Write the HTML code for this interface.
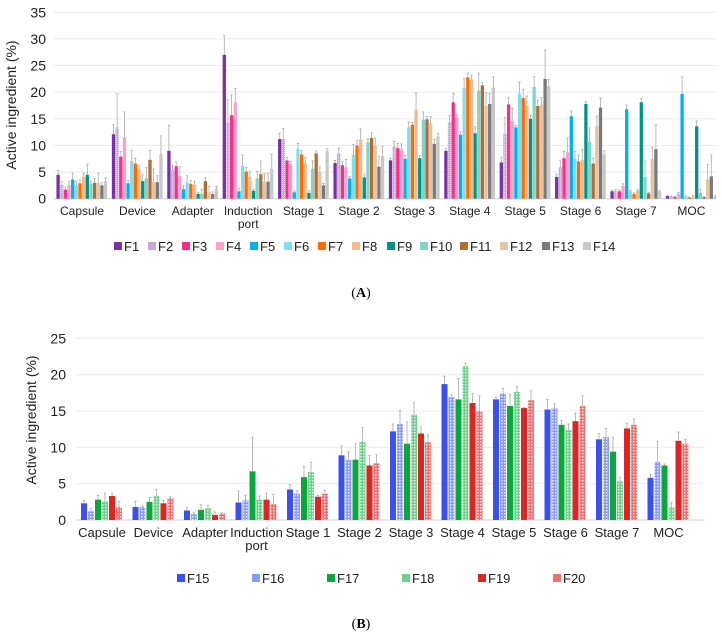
<!DOCTYPE html>
<html><head><meta charset="utf-8"><style>
body{margin:0;background:#fff;}
svg{display:block;font-family:"Liberation Sans",Arial,sans-serif;}
</style></head><body>
<svg id="root" width="722" height="636" viewBox="0 0 722 636">
<defs>
<pattern id="dotF2" width="2" height="2" patternUnits="userSpaceOnUse"><rect width="2" height="2" fill="#c9a6dc"/><rect width="1" height="1" fill="#e8d8f0"/></pattern>
<pattern id="dotF16" width="3" height="3" patternUnits="userSpaceOnUse"><rect width="3" height="3" fill="#8c9cf5"/><rect width="1.5" height="1.5" fill="#e8ecff"/></pattern>
<pattern id="dotF18" width="3" height="3" patternUnits="userSpaceOnUse"><rect width="3" height="3" fill="#6fd08c"/><rect width="1.5" height="1.5" fill="#e4f7e9"/></pattern>
<pattern id="dotF20" width="3" height="3" patternUnits="userSpaceOnUse"><rect width="3" height="3" fill="#f07070"/><rect width="1.5" height="1.5" fill="#fde6e6"/></pattern>
</defs>
<g id="chartA"></g>
<g id="chartB"></g>
<text x="361" y="297" text-anchor="middle" font-family="Liberation Serif" font-size="14">(<tspan font-weight="bold">A</tspan>)</text>
<text x="361" y="628" text-anchor="middle" font-family="Liberation Serif" font-size="14">(<tspan font-weight="bold">B</tspan>)</text>
</svg>
<script>
const categories = ["Capsule","Device","Adapter","Induction|port","Stage 1","Stage 2","Stage 3","Stage 4","Stage 5","Stage 6","Stage 7","MOC"];
const seriesA = ["F1","F2","F3","F4","F5","F6","F7","F8","F9","F10","F11","F12","F13","F14"];
const colorsA = ["#7b2fa8","url(#dotF2)","#ff2a8a","#f7a3cc","#00b0f0","#80def2","#ff6a00","#f8b88a","#009488","#80d4cc","#b46c30","#e4c3a6","#7a7a7a","#c8c8c8"];
const legendColorsA = ["#7b2fa8","#c9a6dc","#ff2a8a","#f7a3cc","#00b0f0","#80def2","#ff6a00","#f8b88a","#009488","#80d4cc","#b46c30","#e4c3a6","#7a7a7a","#c8c8c8"];
const valuesA = [
[4.5,2.6,1.7,2.6,3.6,2.4,2.9,4.1,4.5,2.8,3.0,3.0,2.5,3.3],
[12.1,13.4,7.9,11.5,2.9,7.1,6.6,5.5,3.3,3.8,7.3,3.1,3.1,8.4],
[9.0,5.4,6.1,4.3,1.8,3.1,2.8,2.6,0.9,0.9,3.3,1.2,0.9,1.9],
[27.0,14.3,15.7,18.1,1.4,6.2,5.1,4.1,1.5,3.8,4.6,3.2,3.2,5.6],
[11.2,11.2,7.2,6.5,1.2,9.4,8.3,6.7,1.1,5.6,8.5,5.0,2.5,8.9],
[6.7,8.5,6.3,5.9,3.8,8.2,10.0,11.1,4.0,10.6,11.4,10.0,6.0,8.0],
[7.2,9.8,9.5,9.3,7.5,13.4,13.9,16.7,7.6,14.8,14.9,14.2,10.3,11.7],
[9.0,14.4,18.1,15.3,12.0,20.8,22.8,22.4,12.3,20.3,21.3,17.4,17.8,20.9],
[6.8,12.2,17.7,14.6,13.4,19.7,18.9,17.4,15.0,21.0,17.4,17.7,22.5,21.1],
[4.1,5.9,7.6,8.7,15.5,7.5,7.0,7.3,17.8,10.7,6.6,13.6,17.1,8.3],
[1.4,1.4,1.4,2.4,16.8,1.4,0.9,1.5,18.1,4.1,1.0,7.5,9.3,1.3],
[0.5,0.4,0.3,0.9,19.7,0.4,0.2,0.4,13.6,1.1,0.3,3.6,4.2,0.4]
];
const errorsA = [
[0.8,0.6,0.5,0.7,1.2,0.8,0.6,0.7,2.0,0.5,0.8,1.8,0.5,0.6],
[1.8,6.3,1.0,4.8,0.5,2.0,1.0,0.8,1.2,2.0,1.8,2.5,1.2,3.4],
[4.8,0.8,0.8,1.7,0.7,1.2,0.6,0.7,0.3,0.9,0.6,1.1,0.4,0.4],
[3.6,4.3,3.8,2.6,0.6,2.0,0.8,1.0,0.3,1.3,2.5,1.5,1.6,2.8],
[1.1,2.0,0.6,0.5,0.3,1.0,0.8,1.1,0.4,1.5,0.5,1.0,0.4,0.5],
[0.5,1.0,0.6,1.5,0.4,2.0,1.0,2.0,0.5,0.6,1.0,1.4,2.0,1.8],
[0.4,1.0,0.9,1.0,0.6,1.0,0.4,3.2,0.5,1.5,0.5,1.2,0.8,0.6],
[0.4,1.2,1.7,0.5,0.6,1.8,0.8,0.8,1.2,3.3,0.5,2.5,2.0,2.0],
[1.0,3.1,1.3,2.4,0.4,2.2,1.6,1.9,0.7,1.9,1.0,1.3,5.4,1.3],
[0.5,1.2,1.3,2.7,1.0,1.4,1.2,2.0,0.5,2.6,1.0,1.9,1.8,0.7],
[0.2,0.3,0.2,0.4,0.8,0.2,0.2,0.2,0.7,3.0,0.2,2.2,4.6,0.2],
[0.2,0.1,0.1,0.3,3.2,0.1,0.1,0.2,1.0,0.7,0.1,2.8,4.0,0.2]
];
const ticksA = [0,5,10,15,20,25,30,35];

const seriesB = ["F15","F16","F17","F18","F19","F20"];
const colorsB = ["#3a50f5","url(#dotF16)","#0aa83a","url(#dotF18)","#e32222","url(#dotF20)"];
const valuesB = [
[2.3,1.2,2.8,2.6,3.3,1.8],
[1.8,1.8,2.5,3.3,2.3,3.0],
[1.3,0.8,1.4,1.6,0.7,0.9],
[2.4,2.7,6.7,2.8,2.8,2.2],
[4.2,3.6,5.9,6.6,3.2,3.6],
[8.9,8.3,8.3,10.8,7.5,7.8],
[12.2,13.2,10.5,14.5,11.9,10.7],
[18.7,16.9,16.6,21.2,16.1,15.0],
[16.6,17.4,15.7,17.6,15.4,16.5],
[15.2,15.4,13.1,12.4,13.6,15.7],
[11.1,11.4,9.4,5.3,12.6,13.1],
[5.8,8.0,7.5,1.8,10.9,10.5]
];
const errorsB = [
[0.4,0.4,0.6,1.1,0.4,0.8],
[0.8,0.1,0.6,0.9,0.4,0.2],
[0.4,0.2,0.7,0.4,0.4,0.1],
[1.6,0.7,4.7,0.5,0.9,1.3],
[0.7,0.4,1.5,1.3,0.2,0.5],
[1.3,1.1,2.2,1.9,1.4,1.2],
[1.0,1.9,3.0,1.7,0.9,1.1],
[1.1,0.3,2.9,0.4,1.3,2.1],
[0.3,0.7,1.6,0.8,0.1,1.3],
[1.4,0.6,0.6,0.8,1.1,1.4],
[0.8,1.2,2.0,0.6,0.7,0.8],
[0.5,2.8,0.2,0.6,1.2,0.6]
];
const ticksB = [0,5,10,15,20,25];

const NS="http://www.w3.org/2000/svg";
function mk(parent,tag,attrs,txt){const e=document.createElementNS(NS,tag);for(const k in attrs)e.setAttribute(k,attrs[k]);if(txt!==undefined)e.textContent=txt;parent.appendChild(e);return e;}

function draw(g,cfg){
  const yScale=v=>cfg.y0-v*(cfg.y0-cfg.yTop)/cfg.yMax;
  const xCenter=i=>cfg.c0+i*cfg.step;
  cfg.ticks.forEach(t=>{
    const gl=mk(g,'line',{x1:cfg.left,x2:cfg.right,y1:yScale(t),y2:yScale(t),stroke:t===0?'#d0d0d0':'#ececec','stroke-width':1});
    
    
    const tl=mk(g,'text',{x:cfg.tickX,y:yScale(t)+5,'text-anchor':'end','font-size':cfg.tickFs,fill:'#222'},t);
    
    
  });
  const yt=mk(g,'text',{x:cfg.titleX,y:cfg.titleY,'text-anchor':'middle','font-size':cfg.tickFs,fill:'#222',transform:`rotate(-90 ${cfg.titleX} ${cfg.titleY})`},'Active ingredient (%)');
  
  
  const n=cfg.series.length;
  categories.forEach((c,i)=>{
    const cx=xCenter(i);
    const lines=c.split('|');
    lines.forEach((ln,k)=>{
      const cl=mk(g,'text',{x:cx,y:cfg.labY+k*cfg.labLH,'text-anchor':'middle','font-size':cfg.labFs,fill:'#222'},ln);
      
      
    });
    for(let s=0;s<n;s++){
      const v=cfg.values[i][s], e=cfg.errors[i][s];
      const x=cx-n*cfg.pitch/2+s*cfg.pitch;
      const b=mk(g,'rect',{x:x,y:yScale(v),width:cfg.bw,height:cfg.y0-yScale(v),fill:cfg.colors[s]});
      
      
      const ex=x+cfg.bw/2;
      const eb=mk(g,'path',{d:`M${ex} ${yScale(v+e)}V${yScale(v)}M${ex-1.2} ${yScale(v+e)}H${ex+1.2}`,stroke:'#aaa','stroke-width':0.8,fill:'none'});
      
      
    }
  });
  cfg.series.forEach((s,k)=>{
    const lx=cfg.legX[k];
    const sw=mk(g,'rect',{x:lx,y:cfg.legY-cfg.legSq+1,width:cfg.legSq,height:cfg.legSq,fill:cfg.legColors[k]});
    
    
    const lt=mk(g,'text',{x:lx+cfg.legSq+2,y:cfg.legY+2,'font-size':cfg.legFs,fill:'#222'},s);
    
    
  });
}

draw(document.getElementById('chartA'),{
  series:seriesA,colors:colorsA,legColors:legendColorsA,values:valuesA,errors:errorsA,ticks:ticksA,
  y0:198.7,yTop:12.3,yMax:35,left:54,right:716,c0:82,step:55.4,pitch:3.65,bw:3.3,
  tickX:46,tickFs:14,titleX:16,titleY:105,labY:215,labLH:13,labFs:12,
  legX:[114,148,182,216,250,284,318,352,387,420,460,500,542,583],legY:249,legSq:8,legFs:13
});
draw(document.getElementById('chartB'),{
  series:seriesB,colors:colorsB,legColors:["#3a50f5","#8c9cf5","#0aa83a","#6fd08c","#e32222","#f07070"],values:valuesB,errors:errorsB,ticks:ticksB,
  y0:520,yTop:338.3,yMax:25,left:76,right:705,c0:102,step:51.5,pitch:7,bw:6,
  tickX:66,tickFs:14,titleX:36,titleY:420,labY:537,labLH:13,labFs:13,
  legX:[177,252,327,402,478,553],legY:581,legSq:8,legFs:13
});
</script>
</body></html>
